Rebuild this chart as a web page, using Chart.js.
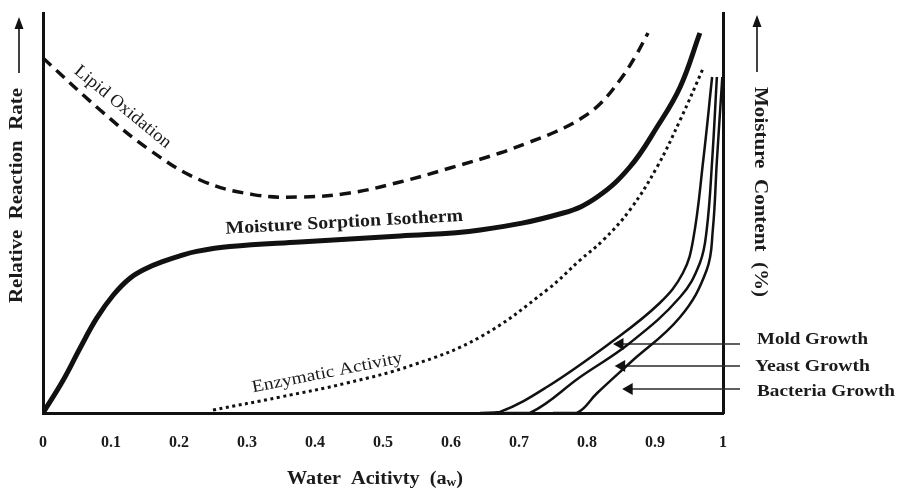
<!DOCTYPE html>
<html>
<head>
<meta charset="utf-8">
<script src="https://cdn.jsdelivr.net/npm/chart.js@4.4.1/dist/chart.umd.min.js"></script>
<style>
  html, body { margin: 0; padding: 0; background: #fff; }
  #wrap { width: 897px; height: 490px; position: relative; }
</style>
</head>
<body>
<div id="wrap"><canvas id="chart"></canvas></div>
<script>
// ── Data (water activity vs. relative rate) ───────────────────────────────
const xTicks     = [0, 0.1, 0.2, 0.3, 0.4, 0.5, 0.6, 0.7, 0.8, 0.9, 1];
const tickLabels = ['0', '0.1', '0.2', '0.3', '0.4', '0.5', '0.6', '0.7', '0.8', '0.9', '1'];

const isothermX = [0, 0.0298, 0.0544, 0.079, 0.1034, 0.1279, 0.1525, 0.1769, 0.2015, 0.226, 0.275, 0.378, 0.525, 0.643, 0.765, 0.815, 0.863, 0.903, 0.937, 0.966];
const isothermY = [0, 8.25, 16.2, 23.7, 29.5, 33.7, 36.2, 37.9, 39.3, 40.4, 41.6, 42.75, 44.25, 45.75, 50, 54, 61.5, 71.5, 81.5, 95];

const lipidX = [0, 0.084, 0.157, 0.231, 0.309, 0.378, 0.451, 0.525, 0.5985, 0.672, 0.716, 0.753, 0.79, 0.819, 0.8485, 0.8706, 0.8897];
const lipidY = [88.75, 75.75, 65.75, 58.25, 54.6, 54, 55, 57.75, 61.25, 65, 67.75, 70.25, 73.5, 77.25, 83.25, 89, 95];

const enzymeX = [0.25, 0.349, 0.447, 0.544, 0.643, 0.741, 0.79, 0.824, 0.863, 0.903, 0.937, 0.971];
const enzymeY = [0.75, 4, 7.5, 12, 19, 30.75, 38.25, 43.25, 50.75, 61.5, 73.25, 86.25];

const moldX     = [0.643, 0.672, 0.741, 0.834, 0.907, 0.941, 0.956, 0.971, 0.984];
const moldY     = [0, 0.25, 6.5, 17.5, 27.5, 35, 43.25, 63.25, 84];
const yeastX    = [0.68, 0.716, 0.79, 0.863, 0.937, 0.966, 0.976, 0.984, 0.991];
const yeastY    = [0, 0, 9, 17.5, 29, 37.5, 45.75, 63, 84];
const bacteriaX = [0.75, 0.785, 0.815, 0.863, 0.937, 0.976, 0.985, 0.991, 0.999];
const bacteriaY = [0, 0, 5, 12.5, 24, 35.75, 45.75, 63, 84];

// pointer arrows: [head x, tail x, y]
const moldArrow     = [0.8485, 1.025, 17.25];
const yeastArrow    = [0.851, 1.025, 11.75];
const bacteriaArrow = [0.862, 1.025, 6];

const zip = (xs, ys) => xs.map((x, i) => ({ x, y: ys[i] }));
const arrowPts = a => [{ x: a[0], y: a[2] }, { x: a[1], y: a[2] }];

const SERIF = '"Liberation Serif", "DejaVu Serif", serif';
const INK = '#111';
const TEXT = '#1b1b1b';

// ── Text / decoration plugin ──────────────────────────────────────────────
function fitText(ctx, text, x, y, width, size, weight, angle) {
  ctx.save();
  ctx.translate(x, y);
  ctx.rotate(angle * Math.PI / 180);
  ctx.font = `${weight} ${size}px ${SERIF}`;
  const w = ctx.measureText(text).width;
  ctx.scale(width / w, 1);
  ctx.textAlign = 'center';
  ctx.textBaseline = 'middle';
  ctx.fillStyle = TEXT;
  ctx.fillText(text, 0, 0);
  ctx.restore();
}

function upArrow(ctx, x, yTip, yTail) {
  ctx.save();
  ctx.strokeStyle = INK;
  ctx.fillStyle = INK;
  ctx.lineWidth = 1.6;
  ctx.beginPath();
  ctx.moveTo(x, yTail);
  ctx.lineTo(x, yTip + 8);
  ctx.stroke();
  ctx.beginPath();
  ctx.moveTo(x, yTip);
  ctx.lineTo(x - 4.5, yTip + 12);
  ctx.lineTo(x + 4.5, yTip + 12);
  ctx.closePath();
  ctx.fill();
  ctx.restore();
}

const labelPlugin = {
  id: 'labels',
  afterDatasetsDraw(chart) {
    const { ctx, scales: { x, y } } = chart;
    const px = v => x.getPixelForValue(v);
    const py = v => y.getPixelForValue(v);

    // curve labels
    fitText(ctx, 'Lipid Oxidation', px(0.117), py(76.5), 120, 18, 'normal', 39.5);
    fitText(ctx, 'Moisture Sorption Isotherm', px(0.443), py(47.6), 238, 18, 'bold', -3.1);
    fitText(ctx, 'Enzymatic Activity', px(0.418), py(10), 153, 17, 'normal', -11.3);
    fitText(ctx, 'Mold Growth', px(1.1316), py(18.25), 111, 17, 'bold', 0);
    fitText(ctx, 'Yeast Growth', px(1.1316), py(11.5), 115, 17, 'bold', 0);
    fitText(ctx, 'Bacteria Growth', px(1.1515), py(5.25), 138, 17, 'bold', 0);

    // x title with subscript
    ctx.save();
    const main = 'Water  Acitivty  (a', sub = 'w', close = ')';
    ctx.font = `bold 18px ${SERIF}`;
    const w1 = ctx.measureText(main).width, w3 = ctx.measureText(close).width;
    ctx.font = `bold 12px ${SERIF}`;
    const w2 = ctx.measureText(sub).width;
    const total = w1 + w2 + w3, target = 176;
    ctx.translate(375, 479);
    ctx.scale(target / total, 1);
    ctx.translate(-total / 2, 0);
    ctx.fillStyle = TEXT;
    ctx.textBaseline = 'middle';
    ctx.textAlign = 'left';
    ctx.font = `bold 18px ${SERIF}`;
    ctx.fillText(main, 0, 0);
    ctx.font = `bold 12px ${SERIF}`;
    ctx.fillText(sub, w1, 4);
    ctx.font = `bold 18px ${SERIF}`;
    ctx.fillText(close, w1 + w2, 0);
    ctx.restore();

    // vertical titles
    fitText(ctx, 'Relative  Reaction  Rate', 17.5, 195.5, 215, 18, 'bold', -90);
    upArrow(ctx, 19, 17, 73);
    fitText(ctx, 'Moisture  Content  (%)', 759.5, 192, 210, 18, 'bold', 90);
    upArrow(ctx, 757, 15, 72);
  }
};

// ── Chart ─────────────────────────────────────────────────────────────────
const curve = (data, width, dash) => ({
  data,
  borderColor: INK,
  borderWidth: width,
  borderDash: dash || [],
  pointRadius: 0,
  fill: false,
  tension: 0.4,
});

const arrow = a => ({
  data: arrowPts(a),
  borderColor: '#2a2a2a',
  borderWidth: 1.5,
  pointStyle: 'triangle',
  pointRotation: -90,
  pointRadius: [7, 0],
  pointBackgroundColor: INK,
  pointBorderWidth: 0,
  clip: false,
});

new Chart(document.getElementById('chart'), {
  type: 'line',
  data: {
    datasets: [
      curve(zip(lipidX, lipidY), 3.5, [11, 7]),
      curve(zip(isothermX, isothermY), 5),
      curve(zip(enzymeX, enzymeY), 3, [3, 3.5]),
      curve(zip(moldX, moldY), 2.5),
      curve(zip(yeastX, yeastY), 2.5),
      curve(zip(bacteriaX, bacteriaY), 2.5),
      arrow(moldArrow),
      arrow(yeastArrow),
      arrow(bacteriaArrow),
    ]
  },
  options: {
    responsive: true,
    maintainAspectRatio: false,
    animation: false,
    layout: { padding: { top: 13, left: 0, right: 0, bottom: 0 } },
    plugins: { legend: { display: false }, tooltip: { enabled: false } },
    scales: {
      x: {
        type: 'linear', min: 0, max: 1,
        afterBuildTicks: s => { s.ticks = xTicks.map(v => ({ value: v })); },
        ticks: {
          callback: (v, i) => tickLabels[i],
          font: { family: SERIF, size: 16, weight: 'bold' },
          color: TEXT, padding: 20, maxRotation: 0, autoSkip: false,
        },
        grid: { display: false, drawTicks: false },
        border: { display: true, color: INK, width: 3 },
        afterFit: s => { s.height = 77; },
      },
      y: {
        min: 0, max: 100, position: 'left',
        ticks: { display: false },
        grid: { display: false, drawTicks: false },
        border: { display: true, color: INK, width: 3 },
        afterFit: s => { s.width = 43; },
      },
      y2: {
        min: 0, max: 100, position: 'right',
        ticks: { display: false },
        grid: { display: false, drawTicks: false },
        border: { display: true, color: INK, width: 3 },
        afterFit: s => { s.width = 174; },
      },
    }
  },
  plugins: [labelPlugin]
});
</script>
</body>
</html>
